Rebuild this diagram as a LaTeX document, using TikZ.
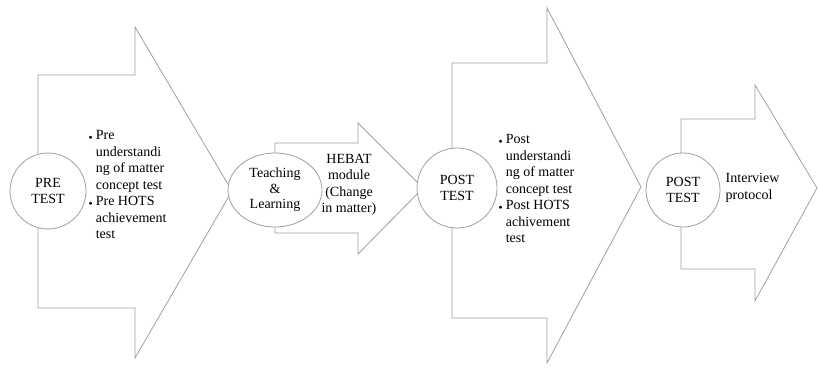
\documentclass[tikz,border=0pt]{standalone}
\usepackage{fontspec}
\setmainfont{Liberation Serif}
\usetikzlibrary{shapes.geometric,%
                positioning}
\definecolor{linegray}{RGB}{160,160,160}

\begin{document}
\begin{tikzpicture}[x=1pt,y=-1pt,line width=0.8pt]
\tikzstyle{arrowbox}=[draw=linegray,fill=white,line join=miter]
\tikzstyle{stage}=[draw=linegray,fill=white,shape=circle,minimum size=76pt,inner sep=0pt,align=center,font=\fontsize{14}{15.5}\selectfont]
\tikzstyle{info} = [align=left,font=\fontsize{14}{16.5}\selectfont];

\useasboundingbox (0,0) rectangle (818,374);

% big arrows
\draw[arrowbox] (38,75) -- (135,75) -- (135,27) -- (232,191) -- (135,358) -- (135,308) -- (38,308) -- cycle;
\draw[arrowbox] (275,143) -- (358,143) -- (358,123) -- (423,188) -- (358,254) -- (358,233) -- (275,233) -- cycle;
\draw[arrowbox] (452,63) -- (547,63) -- (547,8) -- (641,187) -- (547,363) -- (547,318) -- (452,318) -- cycle;
\draw[arrowbox] (681,119) -- (755,119) -- (755,85) -- (817,188) -- (755,301) -- (755,269) -- (681,269) -- cycle;

% stages
\draw (48,191) node[stage] (pre) {PRE\\TEST};
\draw (275,190) node[stage,shape=ellipse,minimum width=94pt,minimum height=74pt] (teach) {Teaching\\\&\\Learning};
\draw (457,188) node[stage,minimum size=80pt] (post) {POST\\TEST};
\draw (683,190) node[stage,minimum size=74pt] (post2) {POST\\TEST};

% contents
\draw (85,186) node[info,anchor=west] (pretxt) {%
  \begin{tabular}{@{}l@{\hspace{3pt}}l@{}}
  {\scriptsize$\bullet$} & Pre\\
   & understandi\\
   & ng of matter\\
   & concept test\\
  {\scriptsize$\bullet$} & Pre HOTS\\
   & achievement\\
   & test
  \end{tabular}};
\draw (349,185) node[info,align=center] (hebat) {HEBAT\\module\\(Change\\in matter)};
\draw (495,190) node[info,anchor=west] (posttxt) {%
  \begin{tabular}{@{}l@{\hspace{3pt}}l@{}}
  {\scriptsize$\bullet$} & Post\\
   & understandi\\
   & ng of matter\\
   & concept test\\
  {\scriptsize$\bullet$} & Post HOTS\\
   & achivement\\
   & test
  \end{tabular}};
\draw (722,188) node[info,anchor=west] (interview) {Interview\\protocol};
\end{tikzpicture}
\end{document}
